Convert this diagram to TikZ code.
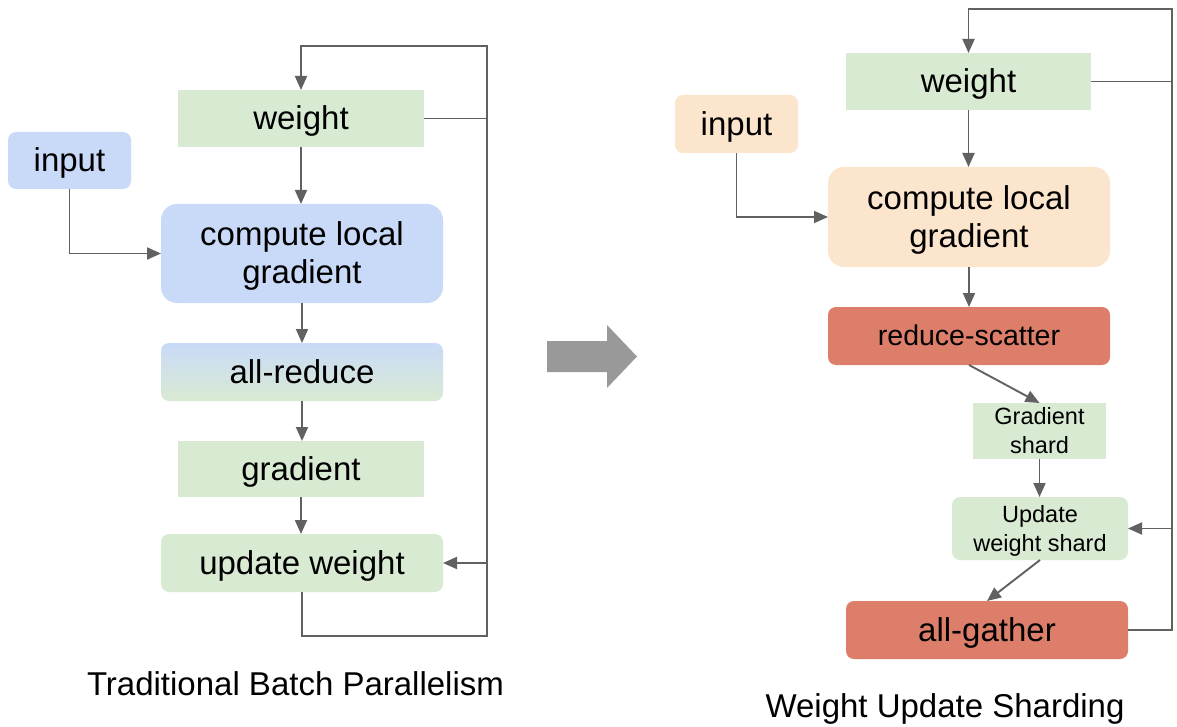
\documentclass[tikz,border=0pt]{standalone}
\usepackage{fontspec}
\setmainfont{Liberation Sans}
\usetikzlibrary{arrows.meta}
\definecolor{bluebox}{HTML}{C9DAF8}
\definecolor{greenbox}{HTML}{D9EAD3}
\definecolor{orangebox}{HTML}{FCE5CD}
\definecolor{redbox}{HTML}{DD7E6B}
\definecolor{linegray}{HTML}{616161}
\definecolor{biggray}{HTML}{999999}
\newcommand{\mystrut}{\rule[-0.212em]{0pt}{1.117em}}
\tikzset{
  boxbase/.style={inner sep=0pt, outer sep=0pt, align=center, font=\fontsize{33}{38}\selectfont},
  midtxt/.style={font=\fontsize{28.5}{33}\selectfont},
  smalltxt/.style={font=\fontsize{23.5}{29}\selectfont},
  bigtxt/.style={font=\fontsize{33}{38}\selectfont},
  flow/.style={draw=linegray, line width=1.9pt, -{Triangle[length=14pt,width=12pt]}},
  lineonly/.style={draw=linegray, line width=1.9pt},
}
\begin{document}
\begin{tikzpicture}[x=1pt, y=-1pt]
\useasboundingbox (0,0) rectangle (1177,727);

% ---------- left diagram ----------
\node[boxbase, fill=bluebox, rounded corners=8pt, minimum width=123pt, minimum height=57pt] (inL) at (69.5,160.5) {\mystrut input};
\node[boxbase, fill=greenbox, minimum width=246pt, minimum height=57pt] (wL) at (301,118.5) {\mystrut weight};
\node[boxbase, fill=bluebox, rounded corners=16pt, minimum width=282pt, minimum height=99pt] (cL) at (302,253.5) {\mystrut compute local\\\mystrut gradient};
\node[boxbase, top color=bluebox, bottom color=greenbox, rounded corners=8pt, minimum width=282pt, minimum height=58pt] (arL) at (302,372) {\mystrut all-reduce};
\node[boxbase, fill=greenbox, minimum width=246pt, minimum height=56pt] (gL) at (301,469) {\mystrut gradient};
\node[boxbase, fill=greenbox, rounded corners=8pt, minimum width=282pt, minimum height=58pt] (uL) at (302,563) {\mystrut update weight};

\coordinate (lbr) at (487,636);
\coordinate (ltr) at (487,46);

\draw[flow] (wL.south) -- (wL.south |- cL.north);
\draw[flow] (cL.south) -- (arL.north);
\draw[flow] (arL.south) -- (arL.south |- gL.north);
\draw[flow] (gL.south) -- (gL.south |- uL.north);
\draw[flow] (inL.south) |- (cL.west);
\draw[flow] (uL.south) |- (lbr) -- (ltr) -| (wL.north);
\draw[lineonly] (wL.east) -- (wL.east -| lbr);
\draw[flow] (uL.east -| lbr) -- (uL.east);

\node[bigtxt, anchor=base, inner sep=0pt] (t1) at (295.5,695) {Traditional Batch Parallelism};

% ---------- big arrow ----------
\fill[biggray] (547,341) -- (607,341) -- (607,325) -- (637,356.5) -- (607,388) -- (607,372) -- (547,372) -- cycle;

% ---------- right diagram ----------
\node[boxbase, fill=orangebox, rounded corners=8pt, minimum width=123pt, minimum height=58pt] (inR) at (736.5,124) {\mystrut input};
\node[boxbase, fill=greenbox, minimum width=245pt, minimum height=57pt] (wR) at (968.5,81.5) {\mystrut weight};
\node[boxbase, fill=orangebox, rounded corners=16pt, minimum width=282pt, minimum height=100pt] (cR) at (969,217) {\mystrut compute local\\\mystrut gradient};
\node[boxbase, midtxt, fill=redbox, rounded corners=8pt, minimum width=282pt, minimum height=58pt] (rsR) at (969,336) {\mystrut reduce-scatter};
\node[boxbase, smalltxt, fill=greenbox, minimum width=133pt, minimum height=56pt] (gsR) at (1039.5,431) {\mystrut Gradient\\\mystrut shard};
\node[boxbase, smalltxt, fill=greenbox, rounded corners=8pt, minimum width=176pt, minimum height=63pt] (uwR) at (1040,528.5) {\mystrut Update\\\mystrut weight shard};
\node[boxbase, fill=redbox, rounded corners=8pt, minimum width=282pt, minimum height=58pt] (agR) at (987,630) {\mystrut all-gather};

\coordinate (rbr) at (1172,630);
\coordinate (rtr) at (1172,9);

\draw[flow] (wR.south) -- (wR.south |- cR.north);
\draw[flow] (cR.south) -- (rsR.north);
\draw[flow] (inR.south) |- (cR.west);
\draw[flow] (rsR.south) -- (gsR.north);
\draw[flow] (gsR.south) -- (gsR.south |- uwR.north);
\draw[flow] (uwR.south) -- (agR.north);
\draw[flow] (agR.east) -- (rbr) -- (rtr) -| (wR.north);
\draw[lineonly] (wR.east) -- (wR.east -| rbr);
\draw[flow] (uwR.east -| rbr) -- (uwR.east);

\node[bigtxt, anchor=base, inner sep=0pt] (t2) at (945,717) {Weight Update Sharding};
\end{tikzpicture}
\end{document}
